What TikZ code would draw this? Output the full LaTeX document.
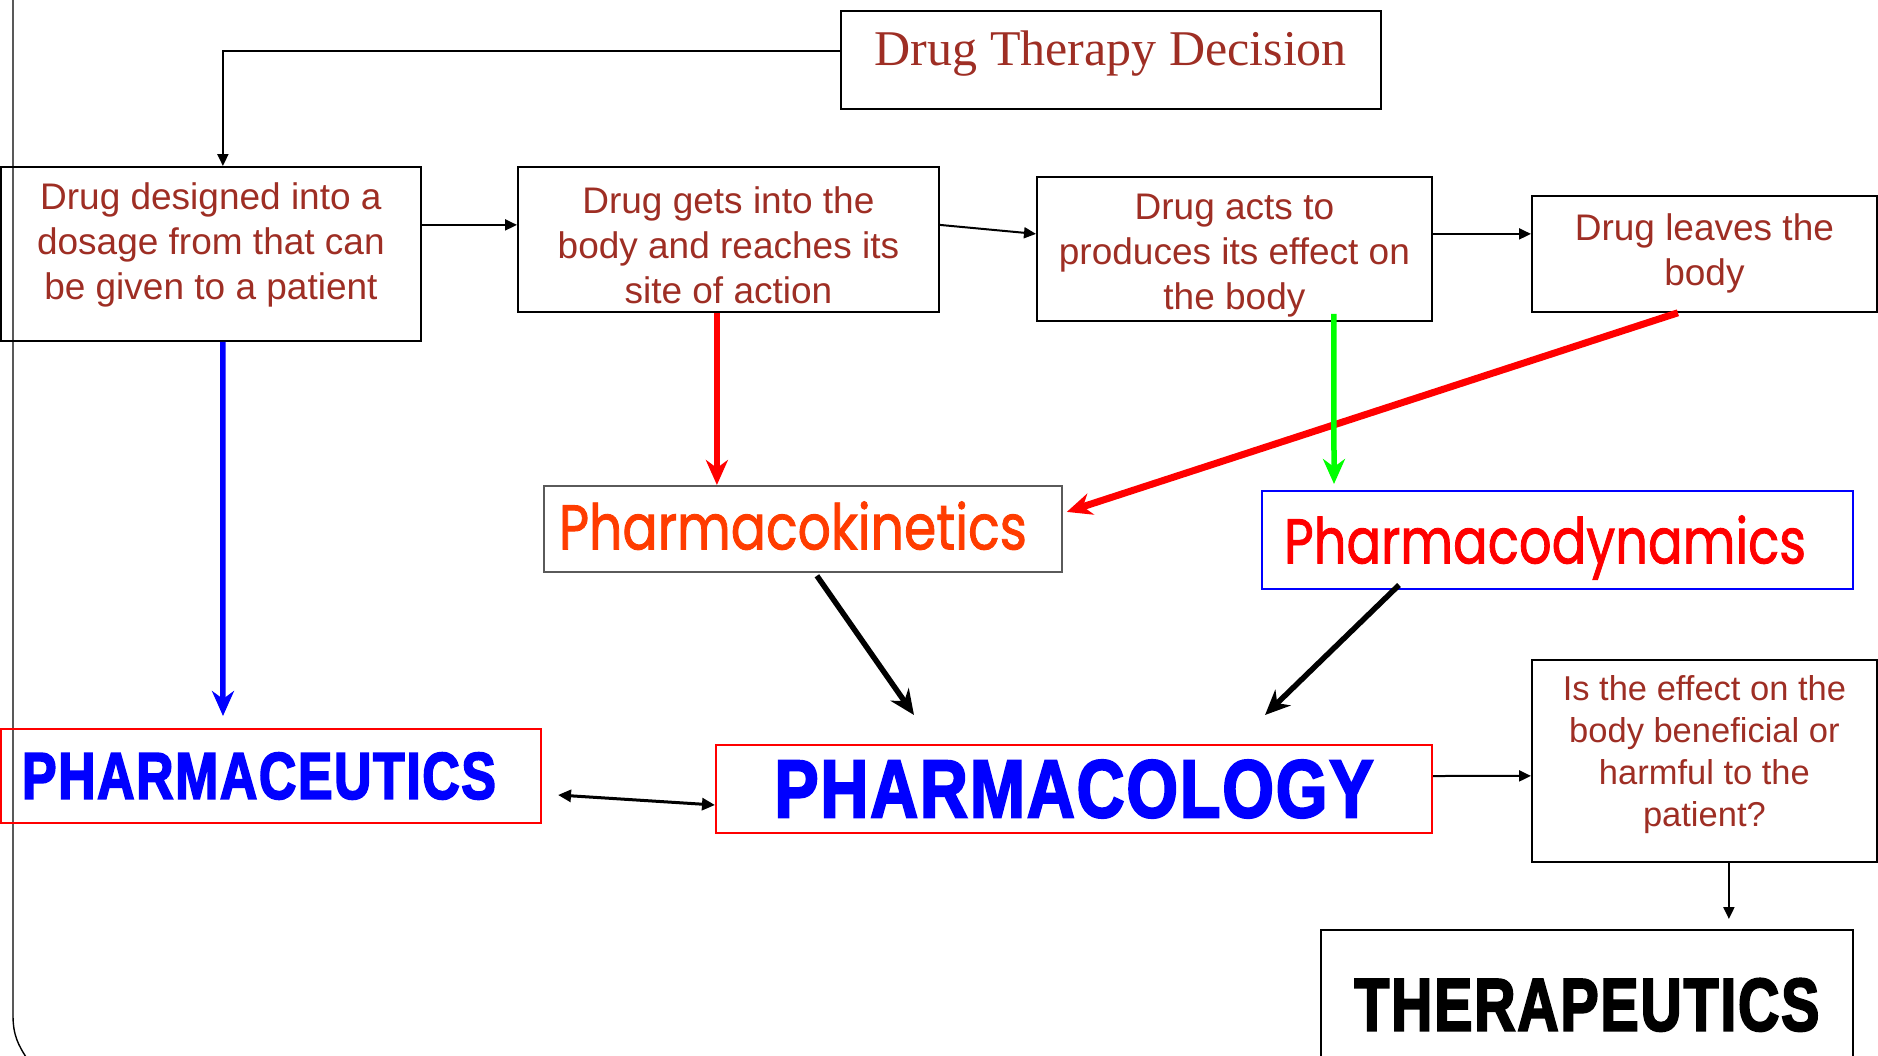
\documentclass[tikz,border=0pt]{standalone}
\usepackage{fontspec}
\setmainfont{Liberation Sans}
\newfontfamily\decfont{Liberation Serif}
\newfontfamily\roundf[FakeBold=1.5]{Poppins}
\newfontfamily\heavyf[BoldFeatures={FakeBold=3,LetterSpace=3}]{Liberation Sans}
\usetikzlibrary{arrows.meta}
\definecolor{txtred}{RGB}{158,46,36}
\definecolor{pkorange}{RGB}{255,60,0}
\definecolor{pkgray}{RGB}{90,90,90}
\definecolor{lgreen}{RGB}{0,255,0}
\tikzset{
  box/.style={draw=black, line width=1.8pt, rectangle, inner sep=0pt, anchor=north west,
    align=center, text=txtred, font=\fontsize{37}{45}\selectfont},
  qbox/.style={box, font=\fontsize{34.5}{42}\selectfont},
  bigbox/.style={draw=red, line width=2pt, rectangle, inner sep=0pt, anchor=north west, text=blue},
  thinarrow/.style={line width=2pt, -{Triangle[length=12pt,width=11pt]}},
  fatarrow/.style={line width=5.5pt, -{Stealth[length=25pt,width=22pt,inset=8pt]}},
  dblarrow/.style={line width=3pt, {Triangle[length=13pt,width=12pt]}-{Triangle[length=13pt,width=12pt]}},
}
\begin{document}
\begin{tikzpicture}[x=1pt,y=-1pt]
\useasboundingbox (0,0) rectangle (1878,1055);
\clip (0,0) rectangle (1878,1055);
% frame line on the left
\draw[line width=1.4pt, black] (13,-5) -- (13,1015) .. controls (13,1035) and (18,1045) .. (28,1060);

% boxes
\node[box, minimum width=540pt, minimum height=98pt, font=\decfont\fontsize{50}{60}\selectfont]
  (decision) at (840,10) {Drug Therapy Decision\rule[-23pt]{0pt}{0pt}};
\node[box, minimum width=420pt, minimum height=174pt] (dosage) at (0,166)
  {Drug designed into a\\dosage from that can\\be given to a patient\rule[-26pt]{0pt}{0pt}};
\node[box, minimum width=421pt, minimum height=145pt] (body) at (517,166)
  {\rule{0pt}{38pt}Drug gets into the\\body and reaches its\\site of action};
\node[box, minimum width=395pt, minimum height=144pt] (acts) at (1036,176)
  {\rule{0pt}{39pt}Drug acts to\\produces its effect on\\the body};
\node[box, minimum width=345pt, minimum height=116pt] (leaves) at (1531,195)
  {Drug leaves the\\body};
\node[box, draw=pkgray, minimum width=518pt, minimum height=86pt, text=pkorange] (pk) at (543,485)
  {\resizebox{468pt}{48pt}{\roundf Pharmacokinetics}\rule[-7pt]{0pt}{0pt}\hspace*{20pt}};
\node[box, draw=blue, line width=2pt, minimum width=591pt, minimum height=98pt, text=red] (pd) at (1261,490)
  {\rule{0pt}{63pt}\resizebox{522pt}{48pt}{\roundf Pharmacodynamics}\hspace*{25pt}};
\node[bigbox, minimum width=540pt, minimum height=94pt] (pceutics) at (0,728)
  {\resizebox{474pt}{46pt}{\heavyf\bfseries PHARMACEUTICS}\hspace*{24pt}};
\node[bigbox, minimum width=716pt, minimum height=88pt] (pcology) at (715,744)
  {\resizebox{599pt}{57pt}{\heavyf\bfseries PHARMACOLOGY}};
\node[qbox, minimum width=345pt, minimum height=202pt] (question) at (1531,659)
  {Is the effect on the\\body beneficial or\\harmful to the\\patient?\rule[-19pt]{0pt}{0pt}};
\node[bigbox, draw=black, line width=1.8pt, text=black, minimum width=532pt, minimum height=150pt] (thera) at (1320,929)
  {\resizebox{465pt}{52pt}{\heavyf\bfseries THERAPEUTICS}};

% thin connectors
\draw[thinarrow] ([yshift=9pt]decision.west) -| ([xshift=12pt]dosage.north);
\draw[thinarrow] ([yshift=29pt]dosage.east) -- ([yshift=14.5pt]body.west);
\draw[thinarrow] ([yshift=14.5pt]body.east) -- ([yshift=15pt]acts.west);
\draw[thinarrow] ([yshift=15pt]acts.east) -- ([yshift=20pt]leaves.west);
\draw[thinarrow] ([yshift=13pt]pcology.east) -- ([yshift=-15pt]question.west);
\draw[thinarrow] ([xshift=24.5pt]question.south) -- ([xshift=142pt,yshift=10pt]thera.north);
\draw[dblarrow] ([xshift=16pt,yshift=-19pt]pceutics.east) -- ([yshift=-16pt]pcology.west);

% thick coloured connectors
\draw[fatarrow, blue] ([xshift=12pt]dosage.south) -- ([xshift=-48pt,yshift=12pt]pceutics.north);
\draw[fatarrow, red] ([xshift=-11.5pt]body.south) -- ([xshift=-86pt]pk.north);
\draw[fatarrow, red, line width=7pt] ([xshift=-26.5pt]leaves.south) -- ([xshift=4pt,yshift=17pt]pk.east);
\draw[fatarrow, lgreen] ([xshift=99.5pt,yshift=8pt]acts.south) -- ([xshift=-223.5pt,yshift=6pt]pd.north);
\draw[fatarrow, black] ([xshift=14pt,yshift=-3pt]pk.south) -- ([xshift=-160pt,yshift=29pt]pcology.north);
\draw[fatarrow, black] ([xshift=-158.5pt,yshift=5pt]pd.south) -- ([xshift=191pt,yshift=29pt]pcology.north);
\end{tikzpicture}
\end{document}
